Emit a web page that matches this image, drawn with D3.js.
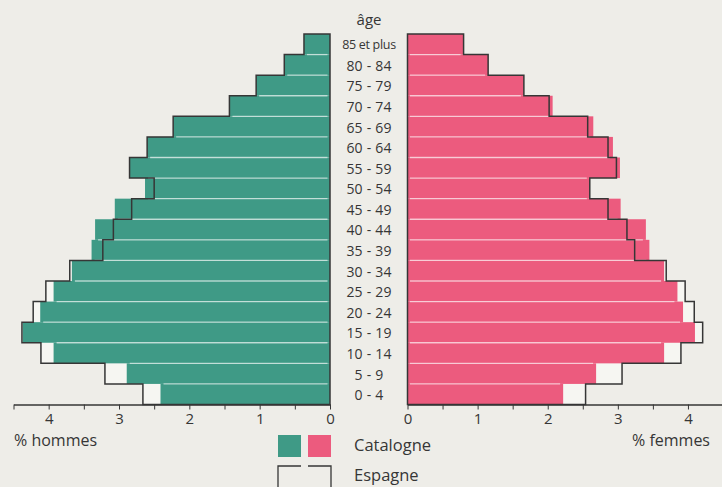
<!DOCTYPE html>
<html>
<head>
<meta charset="utf-8">
<script src="https://cdn.jsdelivr.net/npm/d3@7"></script>
<style>
  body { margin: 0; background: #eeede8; }
  svg { display: block; font-family: "Open Sans", "Noto Sans", sans-serif; }
</style>
</head>
<body>
<svg width="722" height="487"></svg>
<script>
// groupes d'âge, du bas vers le haut
var ages = ["0 - 4", "5 - 9", "10 - 14", "15 - 19", "20 - 24", "25 - 29", "30 - 34", "35 - 39", "40 - 44",
            "45 - 49", "50 - 54", "55 - 59", "60 - 64", "65 - 69", "70 - 74", "75 - 79", "80 - 84", "85 et plus"];
// % de la population, Catalogne (barres) et Espagne (contour)
var catHommes = [2.41, 2.89, 3.93, 4.37, 4.12, 3.93, 3.67, 3.39, 3.34, 3.06, 2.63, 2.85, 2.60, 2.23, 1.43, 1.05, 0.65, 0.37];
var espHommes = [2.66, 3.20, 4.11, 4.38, 4.22, 4.04, 3.70, 3.23, 3.08, 2.82, 2.50, 2.85, 2.60, 2.23, 1.43, 1.05, 0.65, 0.37];
var catFemmes = [2.22, 2.69, 3.66, 4.10, 3.93, 3.85, 3.66, 3.45, 3.40, 3.04, 2.60, 3.03, 2.93, 2.65, 2.07, 1.66, 1.15, 0.80];
var espFemmes = [2.54, 3.06, 3.90, 4.21, 4.09, 3.96, 3.69, 3.24, 3.13, 2.86, 2.60, 2.98, 2.86, 2.57, 2.02, 1.66, 1.15, 0.80];
var tickVals = [0, 0.5, 1, 1.5, 2, 2.5, 3, 3.5, 4, 4.5];
var tickLabels = ["0", "1", "2", "3", "4"];

var teal = "#3f9a86", pink = "#ec5b7e", ink = "#363636";
var svg = d3.select("svg");

var yTop = 34, yBase = 404.5;
var y = d3.scaleBand().domain(ages.slice().reverse()).range([yTop, yBase]);
var xL = d3.scaleLinear().domain([0, 4.5]).range([330, 13.5]);
var xR = d3.scaleLinear().domain([0, 4.5]).range([407.5, 723]);

function side(x, cat, esp, col) {
    var g = svg.append("g");
    // fond clair de l'Espagne
    g.selectAll(".esp").data(esp).enter().append("rect")
        .attr("x", function(d) { return Math.min(x(0), x(d)); })
        .attr("y", function(d, i) { return y(ages[i]); })
        .attr("width", function(d) { return Math.abs(x(d) - x(0)); })
        .attr("height", y.bandwidth())
        .attr("fill", "#f6f6f2");
    g.selectAll(".cat").data(cat).enter().append("rect")
        .attr("x", function(d) { return Math.min(x(0), x(d)); })
        .attr("y", function(d, i) { return y(ages[i]); })
        .attr("width", function(d) { return Math.abs(x(d) - x(0)); })
        .attr("height", y.bandwidth())
        .attr("fill", col);
    // filets clairs entre les barres
    var dir = x(1) > x(0) ? 1 : -1;
    g.selectAll(".sep").data(cat.slice(1)).enter().append("line")
        .attr("x1", x(0) + dir * 2.5)
        .attr("x2", function(d, i) { return x(Math.min(d, cat[i])) - dir * 3; })
        .attr("y1", function(d, i) { return y(ages[i + 1]) + y.bandwidth(); })
        .attr("y2", function(d, i) { return y(ages[i + 1]) + y.bandwidth(); })
        .attr("stroke", "rgba(255,255,255,0.6)")
        .attr("stroke-width", 1.3);
    // contour Espagne
    var pts = [[x(0), yBase]];
    esp.forEach(function(d, i) {
        pts.push([x(d), y(ages[i]) + y.bandwidth()]);
        pts.push([x(d), y(ages[i])]);
    });
    pts.push([x(0), yTop]);
    g.append("path")
        .attr("d", "M" + pts.join("L") + "Z")
        .attr("fill", "none")
        .attr("stroke", ink)
        .attr("stroke-width", 1.5)
        .attr("stroke-linejoin", "miter");
}
side(xL, catHommes, espHommes, teal);
side(xR, catFemmes, espFemmes, pink);

// axes
function axis(x) {
    var a = svg.append("g").attr("transform", "translate(0," + yBase + ")")
        .call(d3.axisBottom(x).tickValues(tickVals).tickSize(5).tickSizeOuter(0).tickPadding(4)
            .tickFormat(function(d) { return d % 1 === 0 ? tickLabels[d] : ""; }));
    a.select(".domain").attr("stroke", ink).attr("stroke-width", 1.3);
    a.selectAll(".tick line").attr("stroke", ink).attr("stroke-width", 1);
    a.selectAll(".tick text").attr("fill", ink).style("font-size", "15px").style("font-family", "Open Sans");
}
axis(xL);
axis(xR);

// étiquettes des âges
svg.append("g").selectAll("text").data(ages).enter().append("text")
    .attr("x", 369)
    .attr("y", function(d) { return y(d) + y.bandwidth() / 2 + (d === "85 et plus" ? 0 : 1); })
    .attr("dy", "0.35em")
    .attr("text-anchor", "middle")
    .attr("fill", ink)
    .style("font-size", function(d) { return d === "85 et plus" ? "12.5px" : "14px"; })
    .style("letter-spacing", function(d) { return d === "85 et plus" ? "-0.3px" : "0.2px"; })
    .text(function(d) { return d; });

svg.append("text").attr("x", 369).attr("y", 25).attr("text-anchor", "middle")
    .attr("fill", ink).style("font-size", "15px").text("âge");

svg.append("text").attr("x", 14).attr("y", 446).attr("fill", ink)
    .style("font-size", "16px").text("% hommes");
svg.append("text").attr("x", 632).attr("y", 446).attr("fill", ink)
    .style("font-size", "16px").text("% femmes");

// légende
var leg = svg.append("g");
leg.append("rect").attr("x", 278).attr("y", 435).attr("width", 23).attr("height", 22).attr("fill", teal);
leg.append("rect").attr("x", 308).attr("y", 435).attr("width", 23).attr("height", 22).attr("fill", pink);
leg.append("text").attr("x", 354).attr("y", 451).attr("fill", ink).style("font-size", "16.5px").text("Catalogne");
leg.append("path").attr("d", "M278,490V466H301M308,466H331V490")
    .attr("fill", "none").attr("stroke", ink).attr("stroke-width", 1.3);
leg.append("text").attr("x", 354).attr("y", 481).attr("fill", ink).style("font-size", "16.5px").text("Espagne");
</script>
</body>
</html>
